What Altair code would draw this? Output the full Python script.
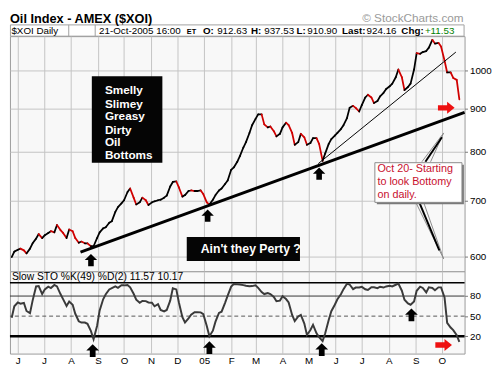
import altair as alt
import numpy as np
import pandas as pd

FONT = "Liberation Sans"

# ---------------- data ----------------
# closes sampled twice a week (Tuesday / Friday)
close = [600, 609, 612, 614, 611, 606, 614, 623, 631, 639,
         632, 637, 641, 644, 642, 655, 646, 641, 632, 647,
         644, 632, 624, 626, 623, 623, 618, 618, 632, 642,
         649, 651, 659, 662, 679, 688, 695, 701, 717, 724,
         706, 693, 697, 706, 701, 692, 697, 699, 701, 702,
         706, 710, 728, 737, 738, 726, 708, 711, 719, 720,
         719, 719, 720, 713, 697, 693, 702, 711, 720, 724,
         733, 740, 762, 767, 779, 791, 810, 822, 843, 861,
         876, 887, 887, 863, 856, 858, 847, 835, 841, 856,
         867, 861, 843, 816, 822, 841, 833, 816, 820, 831,
         831, 818, 781, 797, 818, 829, 837, 843, 852, 861,
         878, 903, 908, 903, 894, 910, 929, 936, 929, 915,
         920, 932, 941, 951, 958, 965, 982, 1003, 982, 948,
         956, 965, 1003, 1049, 1047, 1052, 1055, 1065, 1088, 1077,
         1079, 1068, 1028, 995, 995, 980, 975, 924.16]

sto_k = [47.5, 64.8, 70.4, 68.6, 69.7, 57.7, 54.5, 73.2, 94.4, 95.0,
         83.0, 90.0, 94.0, 92.0, 96.6, 94.4, 83.0, 75.4, 65.2, 71.8,
         66.9, 53.5, 42.3, 40.4, 40.4, 38.5, 27.5, 15.5, 35.2, 58.5,
         75.2, 82.7, 89.9, 91.8, 94.4, 92.4, 96.2, 96.0, 96.6, 93.0,
         83.4, 74.6, 69.9, 72.7, 72.4, 70.4, 70.1, 64.8, 68.0, 59.2,
         57.2, 59.2, 73.2, 91.5, 89.9, 70.4, 48.5, 40.6, 46.5, 52.1,
         55.9, 55.8, 55.6, 53.0, 35.2, 20.0, 28.2, 41.7, 54.8, 56.6,
         69.9, 80.6, 94.1, 98.0, 97.7, 97.2, 96.3, 95.4, 94.6, 94.9,
         96.1, 92.3, 85.9, 83.0, 84.5, 83.0, 78.6, 72.3, 73.2, 79.6,
         75.5, 70.4, 51.8, 42.5, 49.6, 51.7, 38.9, 21.8, 29.2, 36.9,
         24.4, 18.6, 12.7, 24.5, 44.2, 57.3, 67.0, 75.2, 82.8, 90.3,
         98.6, 97.3, 90.4, 92.7, 92.8, 93.7, 90.1, 89.0, 93.2, 93.2,
         91.8, 94.0, 92.7, 94.4, 95.5, 94.4, 96.9, 98.7, 88.0, 74.6,
         68.9, 67.0, 71.8, 87.9, 94.0, 92.1, 85.4, 93.0, 92.1, 88.7,
         93.0, 93.0, 77.9, 40.0, 33.0, 29.0, 21.5, 11.57]

tuesdays = pd.date_range("2004-05-25", "2005-10-18", freq="W-TUE")
fridays = pd.date_range("2004-05-28", "2005-10-21", freq="W-FRI")
dates = pd.DatetimeIndex(sorted(list(tuesdays) + list(fridays)))
n = min(len(dates), len(close), len(sto_k))

month_starts = pd.date_range("2004-06-01", "2005-10-01", freq="MS")
price_ticks = [600, 700, 800, 900, 1000]
sto_ticks = [20, 50, 80]
sto_levels_thin = [80]
sto_levels_dash = [50]
sto_levels_top = [100]
sto_levels_thick = [20]

# trendlines
thick_trend_dates = ["2004-08-12", "2005-10-27"]
thick_trend_vals = [608, 892]
thin_trend_dates = ["2005-05-12", "2005-10-17"]
thin_trend_vals = [775, 1052]

# arrows
price_up_dates = ["2004-08-24", "2005-01-05", "2005-05-13"]
price_up_vals = [595, 672, 754]
sto_up_dates = ["2004-08-26", "2005-01-07", "2005-05-16", "2005-08-27"]
sto_up_vals = [-1.4, 2.8, 0.0, 52.0]
price_red_dates = ["2005-10-06"]
price_red_vals = [903]
sto_red_dates = ["2005-10-03"]
sto_red_vals = [6.9]

# black box 1
box1_dates = ["2004-08-25", "2004-11-14"]
box1_vals = [777, 985]
box1_lines = ["Smelly", "Slimey", "Greasy", "Dirty", "Oil", "Bottoms"]
box1_line_vals = [947, 913, 882, 850, 822, 793]
box1_text_date = "2004-09-09"

# black box 2
box2_dates = ["2004-12-12", "2005-04-21"]
box2_vals = [593.5, 634]
box2_text = "Ain't they Perty ?"
box2_text_date = "2004-12-28"
box2_text_val = 613.5

# callout
call_dates = ["2005-07-16", "2005-10-24"]
call_vals = [697, 777]
call_lines = ["Oct 20- Starting", "to look Bottomy", "on daily."]
call_line_vals = [763, 736, 710.5]
call_text_date = "2005-07-19"
ptr_gray_d1 = ["2005-09-08", "2005-09-18", "2005-09-01", "2005-09-10"]
ptr_gray_v1 = [779, 779, 697, 697]
ptr_gray_d2 = ["2005-10-03", "2005-10-03", "2005-10-03", "2005-10-03"]
ptr_gray_v2 = [843, 843, 597, 597]
ptr_black_d1 = ["2005-09-12", "2005-09-05"]
ptr_black_v1 = [779, 697]
ptr_black_d2 = ["2005-10-01", "2005-09-28"]
ptr_black_v2 = [833, 611]

# ---------------- layout ----------------
W = 464
HH = 24
PH = 240
SH = 84
GRID = "#c4c4c4"
UP = "M0,-1L1,0L0.45,0L0.45,1L-0.45,1L-0.45,0L-1,0Z"
RIGHT = "M1,0L0.1,-0.72L0.1,-0.32L-1,-0.32L-1,0.32L0.1,0.32L0.1,0.72Z"

xscale = alt.Scale(domain=[alt.DateTime(year=2004, month=5, date=23),
                           alt.DateTime(year=2005, month=10, date=27)])
pscale = alt.Scale(type="log", domain=[577, 1099], nice=False)
sscale = alt.Scale(domain=[-6, 117], nice=False, zero=False)
tick_vals = [alt.DateTime(year=int(d.year), month=int(d.month), date=1) for d in month_starts]

x_axis_price = alt.Axis(values=tick_vals, grid=True, gridColor=GRID, gridWidth=1,
                        labels=False, ticks=False, domain=False, title=None)
y_axis_price = alt.Axis(orient="right", values=price_ticks, grid=True, gridColor=GRID,
                        tickSize=3, tickColor="#777777", labelPadding=2, labelFontSize=10,
                        labelColor="black", labelFont=FONT, domain=False, format="d", title=None)
x_axis_sto = alt.Axis(
    values=tick_vals, grid=True, gridColor=GRID, gridWidth=1, ticks=False, domain=False,
    labelExpr="month(datum.value) == 0 ? timeFormat(datum.value, '%y') : "
              "substring(timeFormat(datum.value, '%b'), 0, 1)",
    labelFontSize=10, labelPadding=2, labelFlush=False, labelOverlap=False,
    labelColor="black", labelFont=FONT, title=None)
y_axis_sto = alt.Axis(orient="right", values=sto_ticks, grid=False, tickSize=3,
                      tickColor="#777777", labelPadding=2, labelFontSize=10,
                      labelColor="black", labelFont=FONT, domain=False, title=None)


def D(lst):
    return pd.to_datetime(pd.Series(lst))


def XP(field):
    return alt.X(field, type="temporal", scale=xscale, axis=x_axis_price, title=None)


def PY(field):
    return alt.Y(field, type="quantitative", scale=pscale, axis=y_axis_price, title=None)


def XS(field):
    return alt.X(field, type="temporal", scale=xscale, axis=x_axis_sto, title=None)


def SY(field):
    return alt.Y(field, type="quantitative", scale=sscale, axis=y_axis_sto, title=None)


# ---------------- header ----------------
dummy = pd.DataFrame({"a": [0]})


def htext(s, x, y=22, size=10, bold=False, color="black", align="left"):
    return alt.Chart(dummy).mark_text(
        text=s, align=align, baseline="alphabetic", fontSize=size,
        fontWeight="bold" if bold else "normal", color=color, font=FONT
    ).encode(x=alt.value(x), y=alt.value(y))


hdr_layers = [
    alt.Chart(dummy).mark_rect(fill="white", stroke="#a0a0a0", strokeWidth=1).encode(
        x=alt.value(0.5), x2=alt.value(W - 0.5), y=alt.value(12.5), y2=alt.value(24)),
    alt.Chart(dummy).mark_rule(color="#a0a0a0").encode(
        x=alt.value(60), y=alt.value(12.5), y2=alt.value(24)),
    alt.Chart(dummy).mark_rule(color="#a0a0a0").encode(
        x=alt.value(87), y=alt.value(12.5), y2=alt.value(24)),
    htext("Oil Index - AMEX ($XOI)", 0, y=10.5, size=13, bold=True),
    htext("\u00a9 StockCharts.com", 463, y=10, size=12, color="#9a9a9a", align="right"),
    htext("$XOI Daily", 1.5),
    htext("21-Oct-2005 16:00", 91),
    htext("ET", 180.5, size=7.5, bold=True),
    htext("O:", 197, bold=True),
    htext("912.63", 211.5),
    htext("H:", 246, bold=True),
    htext("937.53", 259.5),
    htext("L:", 292.5, bold=True),
    htext("910.90", 303.5),
    htext("Last:", 339, bold=True),
    htext("924.16", 364),
    htext("Chg:", 399.5, bold=True),
    htext("+11.53", 423.5, color="#008000"),
]
header = alt.layer(*hdr_layers).properties(
    width=W, height=HH, view=alt.ViewBackground(stroke="transparent", fill="transparent"))

# ---------------- price panel ----------------
pr = pd.DataFrame({"date": dates[:n], "close": close[:n]})
pr["date0"] = pr["date"].shift(1)
pr["close0"] = pr["close"].shift(1)
pr = pr.iloc[1:].copy()
pr["move"] = np.where(pr["close"] >= pr["close0"], "up", "down")

segs = alt.Chart(pr).mark_rule(strokeWidth=1.8, strokeCap="round").encode(
    x=XP("date0"),
    x2="date:T",
    y=PY("close0"),
    y2="close:Q",
    color=alt.Color("move:N", scale=alt.Scale(domain=["up", "down"], range=["#000000", "#d00000"]),
                    legend=None),
)

thick_df = pd.DataFrame({"d1": D(thick_trend_dates[:1]), "v1": thick_trend_vals[:1],
                         "d2": D(thick_trend_dates[1:]), "v2": thick_trend_vals[1:]})
thin_df = pd.DataFrame({"d1": D(thin_trend_dates[:1]), "v1": thin_trend_vals[:1],
                        "d2": D(thin_trend_dates[1:]), "v2": thin_trend_vals[1:]})


def seg_layer(df, color, width):
    return alt.Chart(df).mark_rule(color=color, strokeWidth=width).encode(
        x=XP("d1"), x2="d2", y=PY("v1"), y2="v2")


thick = seg_layer(thick_df, "black", 3)
thin = seg_layer(thin_df, "black", 1)


def box_layer(dts, vals, fill, stroke=None, xo=0, yo=0):
    df = pd.DataFrame({"d1": D(dts[:1]), "d2": D(dts[1:]), "v1": vals[:1], "v2": vals[1:]})
    kw = dict(fill=fill, xOffset=xo, yOffset=yo, x2Offset=xo, y2Offset=yo)
    if stroke:
        kw.update(stroke=stroke, strokeWidth=1)
    return alt.Chart(df).mark_rect(**kw).encode(x=XP("d1"), x2="d2", y=PY("v1"), y2="v2")


box1 = box_layer(box1_dates, box1_vals, "#050505")
box1_txt = alt.Chart(pd.DataFrame({"d": D([box1_text_date] * len(box1_lines)),
                                   "v": box1_line_vals, "t": box1_lines})).mark_text(
    align="left", baseline="middle", color="white", fontWeight="bold", fontSize=12, font=FONT
).encode(x=XP("d"), y=PY("v"), text="t:N")

box2 = box_layer(box2_dates, box2_vals, "#050505")
box2_txt = alt.Chart(pd.DataFrame({"d": D([box2_text_date]), "v": [box2_text_val],
                                   "t": [box2_text]})).mark_text(
    align="left", baseline="middle", color="white", fontWeight="bold", fontSize=12.5, font=FONT
).encode(x=XP("d"), y=PY("v"), text="t:N")

ptr_gray = alt.Chart(pd.DataFrame({"d1": D(ptr_gray_d1), "v1": ptr_gray_v1,
                                   "d2": D(ptr_gray_d2), "v2": ptr_gray_v2})).mark_rule(
    color="#8a8a8a", strokeWidth=1).encode(x=XP("d1"), x2="d2", y=PY("v1"), y2="v2")
ptr_black = alt.Chart(pd.DataFrame({"d1": D(ptr_black_d1), "v1": ptr_black_v1,
                                    "d2": D(ptr_black_d2), "v2": ptr_black_v2})).mark_rule(
    color="black", strokeWidth=2).encode(x=XP("d1"), x2="d2", y=PY("v1"), y2="v2")

call_shadow = box_layer(call_dates, call_vals, "#7a7a7a", xo=2, yo=2)
call_box = box_layer(call_dates, call_vals, "white", stroke="#8a8a8a")
call_txt = alt.Chart(pd.DataFrame({"d": D([call_text_date] * len(call_lines)),
                                   "v": call_line_vals, "t": call_lines})).mark_text(
    align="left", baseline="middle", color="#c8102e", fontSize=11, font=FONT
).encode(x=XP("d"), y=PY("v"), text="t:N")

p_up = alt.Chart(pd.DataFrame({"d": D(price_up_dates), "v": price_up_vals})).mark_point(
    shape=UP, filled=True, color="black", opacity=1, size=160, strokeWidth=0
).encode(x=XP("d"), y=PY("v"))
p_red = alt.Chart(pd.DataFrame({"d": D(price_red_dates), "v": price_red_vals})).mark_point(
    shape=RIGHT, filled=True, color="#ee1111", opacity=1, size=289, strokeWidth=0
).encode(x=XP("d"), y=PY("v"))

price_chart = alt.layer(
    segs, thick, thin, box1, box1_txt, box2, box2_txt,
    ptr_gray, ptr_black, call_shadow, call_box, call_txt, p_up, p_red
).properties(width=W, height=PH,
             view=alt.ViewBackground(fill="#f8f8f8", stroke="#9a9a9a"))

# ---------------- STO panel ----------------
st = pd.DataFrame({"date": dates[:n], "k": sto_k[:n]})


def level(vals, color, width, dash=None):
    kw = dict(color=color, strokeWidth=width)
    if dash:
        kw["strokeDash"] = dash
    return alt.Chart(pd.DataFrame({"v": vals})).mark_rule(**kw).encode(y=SY("v"))


sto_line = alt.Chart(st).mark_line(color="#3a3a3a", strokeWidth=2, clip=True).encode(
    x=XS("date"), y=SY("k"))
s_up = alt.Chart(pd.DataFrame({"d": D(sto_up_dates), "v": sto_up_vals})).mark_point(
    shape=UP, filled=True, color="black", opacity=1, size=170, strokeWidth=0
).encode(x=XS("d"), y=SY("v"))
s_red = alt.Chart(pd.DataFrame({"d": D(sto_red_dates), "v": sto_red_vals})).mark_point(
    shape=RIGHT, filled=True, color="#ee1111", opacity=1, size=289, strokeWidth=0
).encode(x=XS("d"), y=SY("v"))
sto_label = alt.Chart(dummy).mark_text(
    text="Slow STO %K(49) %D(2)  11.57  10.17", align="left", baseline="middle",
    fontSize=10.5, font=FONT, color="black"
).encode(x=alt.value(2), y=alt.value(6))

sto_chart = alt.layer(
    level(sto_levels_top, "black", 1.5),
    level(sto_levels_thin, "#333333", 1),
    level(sto_levels_dash, "#555555", 1, [4, 3]),
    level(sto_levels_thick, "black", 2.5),
    sto_line, s_up, s_red, sto_label
).properties(width=W, height=SH,
             view=alt.ViewBackground(fill="#f8f8f8", stroke="#9a9a9a"))

chart = alt.vconcat(header, price_chart, sto_chart, spacing=0, bounds="flush").properties(
    padding=0).configure(font=FONT)

chart.save("out.html", embed_options={"renderer": "svg", "actions": False})
